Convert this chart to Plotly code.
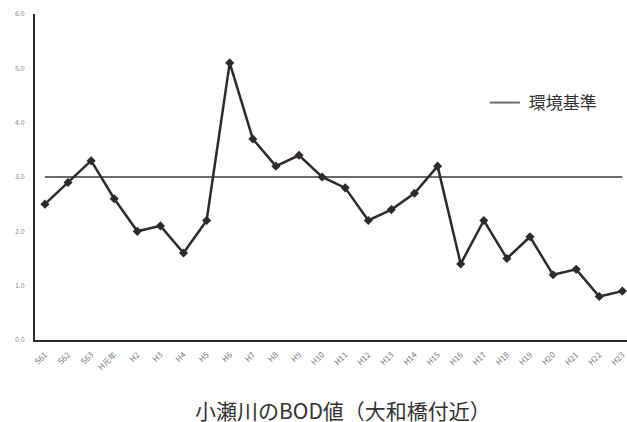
import plotly.graph_objects as go

years = ["S61", "S62", "S63", "H元年", "H2", "H3", "H4", "H5", "H6", "H7", "H8", "H9", "H10",
         "H11", "H12", "H13", "H14", "H15", "H16", "H17", "H18", "H19", "H20", "H21", "H22", "H23"]
bod = [2.5, 2.9, 3.3, 2.6, 2.0, 2.1, 1.6, 2.2, 5.1, 3.7, 3.2, 3.4, 3.0,
       2.8, 2.2, 2.4, 2.7, 3.2, 1.4, 2.2, 1.5, 1.9, 1.2, 1.3, 0.8, 0.9]
standard = [3.0] * len(years)
y_ticks = [0, 1, 2, 3, 4, 5, 6]
y_tick_labels = ["0.0", "1.0", "2.0", "3.0", "4.0", "5.0", "6.0"]

font = "Noto Sans CJK JP, Noto Sans, sans-serif"

fig = go.Figure()
fig.add_trace(go.Scatter(
    x=years, y=standard, mode="lines", name=" 環境基準",
    line=dict(color="#6b6b6b", width=2), showlegend=True, hoverinfo="skip"))
fig.add_trace(go.Scatter(
    x=years, y=bod, mode="lines+markers", name="BOD",
    line=dict(color="#2e2a2a", width=2.5),
    marker=dict(symbol="diamond", size=7, color="#2e2a2a"),
    showlegend=False))

fig.update_layout(
    width=627, height=422,
    margin=dict(l=35, r=0, t=14, b=82, autoexpand=False),
    paper_bgcolor="white", plot_bgcolor="white",
    font=dict(family=font, color="#555"),
    showlegend=True,
    legend=dict(x=0.76, y=0.727, xanchor="left", yanchor="middle",
                font=dict(size=17, color="#333", family=font),
                bgcolor="rgba(0,0,0,0)"),
    xaxis=dict(
        type="category",
        range=[-0.43, 25.2], automargin=False,
        tickangle=-45, tickfont=dict(size=8, color="#777"),
        showgrid=False, zeroline=False, showline=True,
        linecolor="#2e2a2a", linewidth=2, ticks="", ticklabelstandoff=5),
    yaxis=dict(
        range=[0, 6], automargin=False,
        tickmode="array", tickvals=y_ticks, ticktext=y_tick_labels,
        tickfont=dict(size=7, color="#888"),
        showgrid=False, zeroline=False, showline=True,
        linecolor="#2e2a2a", linewidth=2, ticks="", ticklabelstandoff=7),
    annotations=[dict(
        text="小瀬川のBOD値（大和橋付近）", xref="paper", yref="paper",
        x=0.52, y=-0.215, xanchor="center", yanchor="middle", showarrow=False,
        font=dict(size=21, color="#333", family=font))],
)

fig.write_html("out.html", config={"displayModeBar": False},
               post_script="document.body.style.margin='0';document.body.style.overflow='hidden';")
